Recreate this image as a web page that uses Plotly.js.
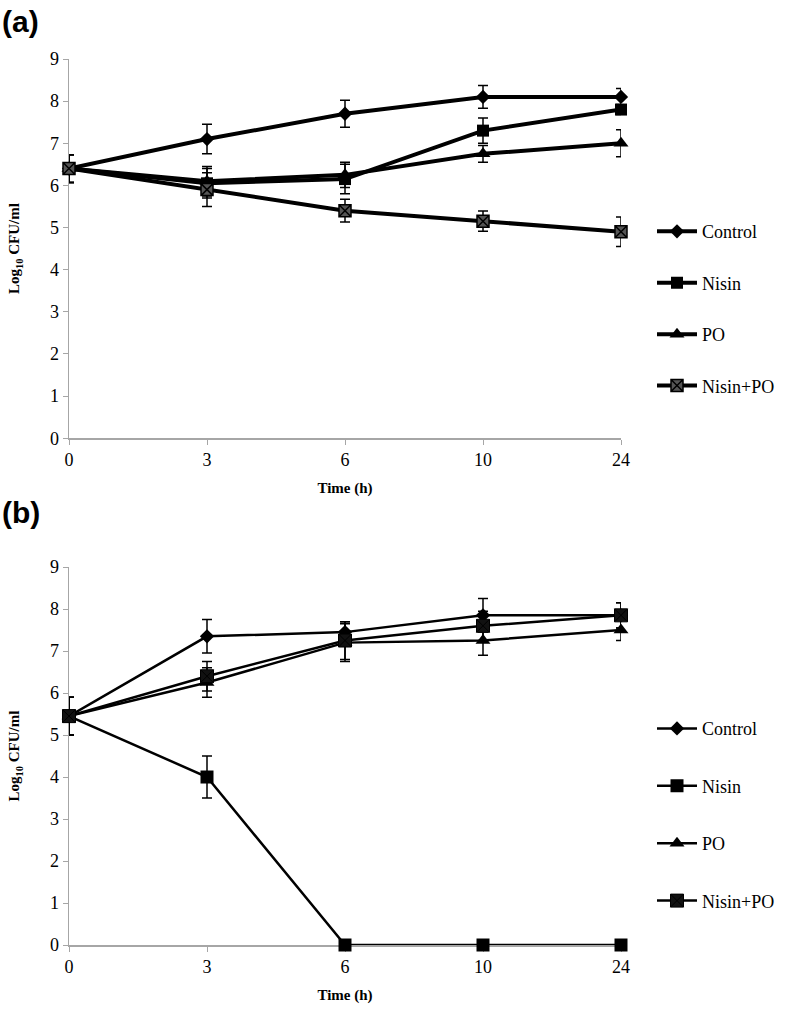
<!DOCTYPE html>
<html>
<head>
<meta charset="utf-8">
<script src="https://cdn.plot.ly/plotly-3.0.1.min.js"></script>
<style>
  body { margin: 0; background: #fff; }
  #chart { width: 788px; height: 1017px; }
</style>
</head>
<body>
<div id="chart"></div>
<script>
// sampling times (h), shown as categories
var times = ["0", "3", "6", "10", "24"];
var seriesNames = ["Control", "Nisin", "PO", "Nisin+PO"];

// (a) log10 CFU/ml and error bars
var controlA = [6.4, 7.1, 7.7, 8.1, 8.1];
var controlErrA = [0.33, 0.35, 0.32, 0.27, 0.2];
var nisinA = [6.4, 6.05, 6.15, 7.3, 7.8];
var nisinErrA = [0.33, 0.35, 0.35, 0.3, 0.12];
var poA = [6.4, 6.1, 6.25, 6.75, 7.0];
var poErrA = [0.33, 0.35, 0.3, 0.2, 0.32];
var nisinPoA = [6.4, 5.9, 5.4, 5.15, 4.9];
var nisinPoErrA = [0.33, 0.4, 0.27, 0.24, 0.35];

// (b)
var controlB = [5.45, 7.35, 7.45, 7.85, 7.85];
var controlErrB = [0.45, 0.4, 0.25, 0.4, 0.3];
var nisinB = [5.45, 4.0, 0, 0, 0];
var nisinErrB = [0.45, 0.5, null, null, null];
var poB = [5.45, 6.25, 7.2, 7.25, 7.5];
var poErrB = [0.45, 0.35, 0.45, 0.35, 0.25];
var nisinPoB = [5.45, 6.4, 7.25, 7.6, 7.85];
var nisinPoErrB = [0.45, 0.35, 0.45, 0.35, 0.3];

var serif = "Liberation Serif, serif";

function makeTrace(name, y, err, symbol, panel, opts) {
    var isA = panel === "a";
    return {
        x: times,
        y: y,
        name: name,
        type: "scatter",
        mode: "lines+markers",
        xaxis: isA ? "x" : "x2",
        yaxis: isA ? "y" : "y2",
        legend: isA ? "legend" : "legend2",
        legendgroup: panel + name,
        cliponaxis: false,
        line: { color: "black", width: isA ? 4 : 2.5 },
        marker: {
            symbol: symbol,
            size: opts.size,
            color: opts.color || "black",
            line: { color: "black", width: opts.lineWidth || 0 }
        },
        error_y: { type: "data", array: err, visible: true, color: "black", thickness: 1.5, width: 5 }
    };
}

var data = [
    makeTrace(seriesNames[0], controlA, controlErrA, "diamond", "a", { size: 11 }),
    makeTrace(seriesNames[1], nisinA, nisinErrA, "square", "a", { size: 12 }),
    makeTrace(seriesNames[2], poA, poErrA, "triangle-up", "a", { size: 13 }),
    makeTrace(seriesNames[3], nisinPoA, nisinPoErrA, "square-x", "a", { size: 12, color: "#555", lineWidth: 1.5 }),
    makeTrace(seriesNames[0], controlB, controlErrB, "diamond", "b", { size: 11 }),
    makeTrace(seriesNames[1], nisinB, nisinErrB, "square", "b", { size: 13 }),
    makeTrace(seriesNames[2], poB, poErrB, "triangle-up", "b", { size: 13 }),
    makeTrace(seriesNames[3], nisinPoB, nisinPoErrB, "square-x", "b", { size: 13, color: "#111", lineWidth: 1 })
];

// plot area spans x 69..621 px; legends sit to the right inside the paper
var plotW = 788 - 69;
var xDomain = [0, 552 / plotW];

function xAxis() {
    return {
        domain: xDomain,
        type: "category",
        categoryorder: "array",
        categoryarray: times,
        range: [0, 4],
        layer: "below traces",
        showgrid: false,
        zeroline: false,
        showline: true,
        linecolor: "#a6a6a6",
        linewidth: 1.5,
        ticks: "outside",
        tickcolor: "#a6a6a6",
        ticklen: 5,
        tickfont: { family: serif, size: 18, color: "black" },
        title: { text: "<b>Time (h)</b>", font: { family: serif, size: 15, color: "black" }, standoff: 13 }
    };
}

function yAxis(domain) {
    return {
        domain: domain,
        range: [0, 9],
        dtick: 1,
        layer: "below traces",
        showgrid: false,
        zeroline: false,
        showline: true,
        linecolor: "#a6a6a6",
        linewidth: 1.5,
        ticks: "outside",
        tickcolor: "#a6a6a6",
        ticklen: 5,
        tickfont: { family: serif, size: 18, color: "black" },
        title: { text: "<b>Log<sub>10</sub> CFU/ml</b>", font: { family: serif, size: 15, color: "black" }, standoff: 26 }
    };
}

var xa = xAxis();
xa.anchor = "y";
var xb = xAxis();
xb.anchor = "y2";

var legendX = (652 - 69) / plotW;

var layout = {
    width: 788,
    height: 1017,
    margin: { l: 69, r: 0, t: 59, b: 72 },
    paper_bgcolor: "white",
    plot_bgcolor: "white",
    showlegend: true,
    xaxis: xa,
    yaxis: yAxis([0.572, 1]),
    xaxis2: xb,
    yaxis2: yAxis([0, 0.4266]),
    legend: {
        x: legendX, y: 0.826, xanchor: "left", yanchor: "top",
        traceorder: "grouped", tracegroupgap: 25,
        font: { family: serif, size: 18, color: "black" },
        itemwidth: 40
    },
    legend2: {
        x: legendX, y: 0.265, xanchor: "left", yanchor: "top",
        traceorder: "grouped", tracegroupgap: 31,
        font: { family: serif, size: 18, color: "black" },
        itemwidth: 40
    },
    annotations: [
        { text: "<b>(a)</b>", xref: "paper", yref: "paper", x: -69 / plotW, y: 1.042, xanchor: "left", yanchor: "middle",
          showarrow: false, font: { family: "Liberation Sans", size: 30, color: "black" } },
        { text: "<b>(b)</b>", xref: "paper", yref: "paper", x: -69 / plotW, y: 0.4887, xanchor: "left", yanchor: "middle",
          showarrow: false, font: { family: "Liberation Sans", size: 30, color: "black" } }
    ]
};

Plotly.newPlot("chart", data, layout, { displayModeBar: false, staticPlot: true });
</script>
</body>
</html>
